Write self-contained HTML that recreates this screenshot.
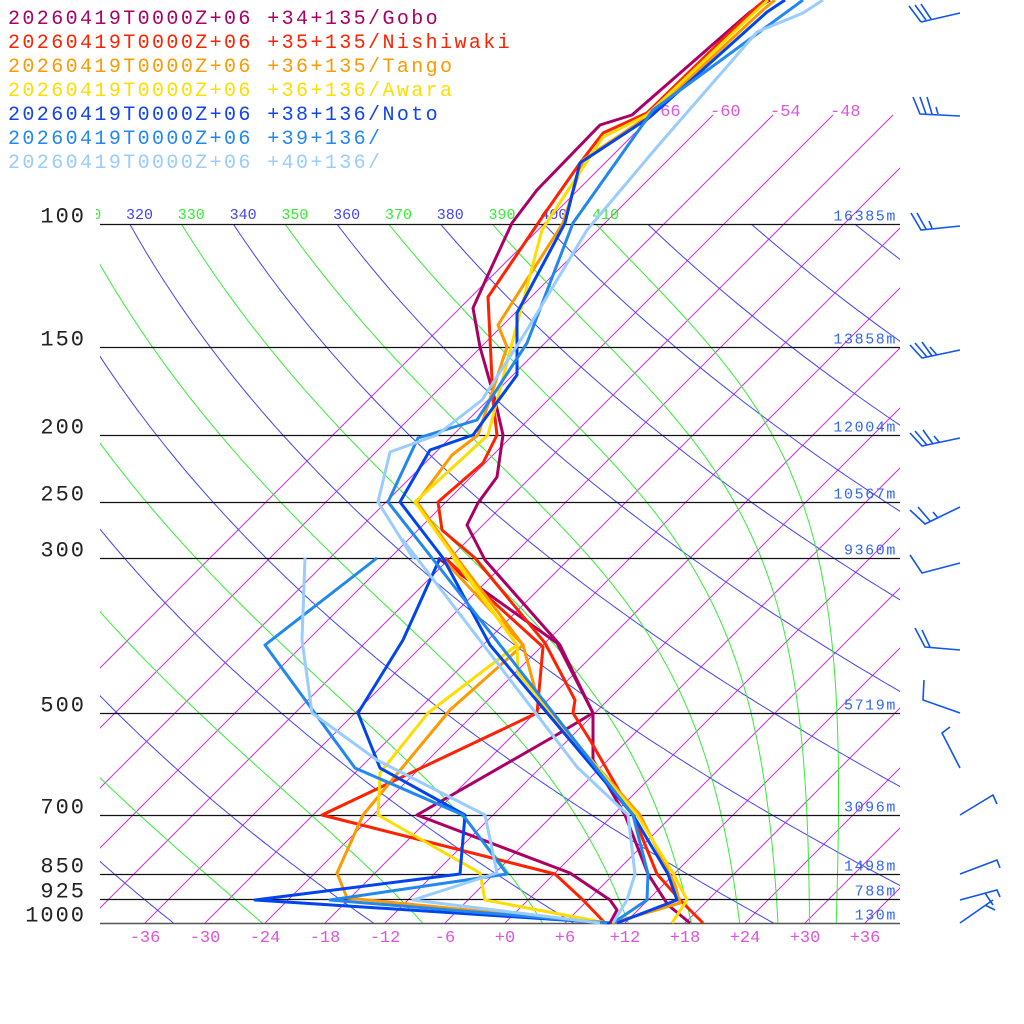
<!DOCTYPE html>
<html><head><meta charset="utf-8"><style>
html,body{margin:0;padding:0;background:#fff;}
svg{display:block;}
text{font-family:"Liberation Mono","DejaVu Sans Mono",monospace;}
</style></head><body>
<svg id="s" width="1024" height="1024" viewBox="0 0 1024 1024" xmlns="http://www.w3.org/2000/svg">
<defs><clipPath id="c1"><rect x="100" y="224" width="800" height="699"/></clipPath>
<clipPath id="c2"><rect x="100" y="0" width="800" height="923"/></clipPath>
<clipPath id="c3"><rect x="96" y="190" width="900" height="40"/></clipPath></defs>
<g id="bg"></g>
<g id="data" fill="none" stroke-width="3" stroke-linejoin="round">
<polyline stroke="#aa0066" points="690,923 668,905 648,874 625,815 593,760 593,713 560,645 485,560 467,525 478,503 497,477 503,435 495,400 480,347 473,308 487,277 512,223 537,190 600,125 632,115 750,12 770,0"/>
<polyline stroke="#aa0066" points="438,558 557,643 593,713 553,737 417,815 570,873 610,900 617,910 610,923"/>
<polyline stroke="#ff2200" points="703,923 680,900 657,874 633,815 590,740 573,713 575,700 545,643 475,558 442,530 438,502 483,463 497,435 493,400 488,297 545,213 580,163 603,133 647,113 753,10 765,0"/>
<polyline stroke="#ff2200" points="445,558 543,647 537,713 322,815 555,874 583,900 605,923"/>
<polyline stroke="#ff9900" points="612,923 680,903 675,885 640,815 538,700 523,645 457,558 417,502 452,455 478,435 507,347 498,325 563,223 583,160 650,115 763,10 775,0"/>
<polyline stroke="#ff9900" points="442,558 523,645 450,710 363,815 337,873 347,898 603,923"/>
<polyline stroke="#ffdd00" points="672,923 687,900 673,873 637,815 518,673 517,645 455,558 415,502 488,435 520,313 542,230 603,137 647,115 757,10 768,0"/>
<polyline stroke="#ffdd00" points="453,558 517,645 428,713 380,773 378,815 480,873 485,900 607,923"/>
<polyline stroke="#0044ee" points="617,923 677,900 668,874 633,815 490,645 443,558 400,502 430,450 473,435 517,375 517,313 565,223 580,163 650,117 767,12 785,0"/>
<polyline stroke="#0044ee" points="440,558 403,640 358,713 380,768 465,815 460,874 255,900 610,923"/>
<polyline stroke="#2288ee" points="613,923 647,900 648,874 633,815 432,558 388,502 418,438 477,420 527,343 573,223 653,110 803,0"/>
<polyline stroke="#2288ee" points="377,558 265,645 355,768 463,815 507,874 330,900 607,923"/>
<polyline stroke="#99ccff" points="613,923 627,900 635,874 628,815 577,767 403,540 413,558 378,502 390,452 437,435 482,400 527,330 587,230 657,147 757,32 803,13 823,0"/>
<polyline stroke="#99ccff" points="305,558 302,640 312,713 377,760 485,815 497,873 413,900 600,923"/>
</g>
<g id="barbs" stroke="#1155ee" stroke-width="1.6" fill="none">
<path d="M960,13L921,22M921,22L909,6M926,20L915,5M931,19L921,4"/>
<path d="M960,116L920,114L913,97M926,114L920,97M932,114L927,97M938,114L936,107"/>
<path d="M960,226L921,230L911,213M926,229L917,213M932,228L929,221"/>
<path d="M960,350L922,358L910,345M927,357L915,343M932,356L922,342M937,355L930,347"/>
<path d="M960,438L922,446L910,433M927,445L915,431M933,444L923,430M939,442L934,436"/>
<path d="M960,507L925,524L910,510M930,521L918,507M938,518L933,512"/>
<path d="M960,563L922,573L910,555"/>
<path d="M960,650L925,647L915,628M930,647L922,630"/>
<path d="M960,713L923,700L924,680"/>
<path d="M960,768L942,733L950,727"/>
<path d="M960,815L993,795L997,804"/>
<path d="M960,874L997,860L1000,868"/>
<path d="M960,900L997,890L1000,897M985,893L993,905"/>
<path d="M960,923L993,900M985,905L995,910"/>
</g>
<g id="txt" font-size="20" letter-spacing="2.4">
<text x="8" y="24" fill="#aa0066">20260419T0000Z+06 +34+135/Gobo</text>
<text x="8" y="48" fill="#ff2200">20260419T0000Z+06 +35+135/Nishiwaki</text>
<text x="8" y="72" fill="#ff9900">20260419T0000Z+06 +36+135/Tango</text>
<text x="8" y="96" fill="#ffdd00">20260419T0000Z+06 +36+136/Awara</text>
<text x="8" y="120" fill="#1144ee">20260419T0000Z+06 +38+136/Noto</text>
<text x="8" y="144" fill="#2288ee">20260419T0000Z+06 +39+136/</text>
<text x="8" y="168" fill="#99ccff">20260419T0000Z+06 +40+136/</text>
</g>
</svg>
<script>
(function(){
var NS="http://www.w3.org/2000/svg";
var bg=document.getElementById('bg');
function el(t,a,p){var e=document.createElementNS(NS,t);for(var k in a)e.setAttribute(k,a[k]);(p||bg).appendChild(e);return e;}
function yP(p){return 923-303.5*Math.log(1000/p);}
function xT(T,y){return 505+10*T+(923-y);}
var gi=el('g',{'clip-path':'url(#c2)',stroke:'#cc33dd','stroke-width':'1',fill:'none'});
for(var T=-66;T<=60;T+=6){
  el('line',{x1:xT(T,923),y1:923,x2:xT(T,115),y2:115},gi);
}
var gt=el('g',{'clip-path':'url(#c1)',fill:'none','stroke-width':'1'});
var gl=el('g',{'clip-path':'url(#c3)','font-size':'15'});
for(var th=200;th<=520;th+=20){
  var pts=[];
  for(var p=1000;p>=98;p-=5){var y=yP(p);var T=th*Math.pow(p/1000,0.2857)-273.15;pts.push(xT(T,y).toFixed(1)+','+y.toFixed(1));}
  el('polyline',{points:pts.join(' '),stroke:'#4444ee'},gt);
  if(th>=320&&th<=400){var T=th*Math.pow(0.1,0.2857)-273.15;var t=el('text',{x:xT(T,224)-4,y:219,fill:'#4444ee'},gl);t.textContent=th;}
}
function es(Tc){return 6.112*Math.exp(17.67*Tc/(Tc+243.5));}
for(var th=190;th<=410;th+=20){
  var TK=th*Math.pow(0.1,0.2857);var pts=[];
  var p=100;var Lv=2.5e6,Rd=287,cp=1004,eps=0.622;
  while(p<=1000.01){
    var y=yP(p);pts.push(xT(TK-273.15,y).toFixed(1)+','+y.toFixed(1));
    var dp=2;
    for(var k=0;k<4;k++){
      var e=es(TK-273.15);var rs=eps*e/Math.max(p-e,1);
      var dTdp=(1/p)*(Rd*TK+Lv*rs)/(cp+(Lv*Lv*rs*eps)/(Rd*TK*TK));
      TK+=dTdp*dp/4;p+=dp/4;
    }
  }
  el('polyline',{points:pts.join(' '),stroke:'#33ee33'},gt);
  if(th>=310){var T=th*Math.pow(0.1,0.2857)-273.15;var t=el('text',{x:xT(T,224)-4,y:219,fill:'#33ee33'},gl);t.textContent=th;}
}
var P=[[100,'100','16385m'],[150,'150','13858m'],[200,'200','12004m'],[250,'250','10567m'],[300,'300','9360m'],[500,'500','5719m'],[700,'700','3096m'],[850,'850','1498m'],[925,'925','788m'],[1000,'1000','130m']];
P.forEach(function(a){var y=Math.round(yP(a[0]))+0.5;
  el('line',{x1:100,y1:y,x2:900,y2:y,stroke:a[0]==1000?'#555':'#111','stroke-width':a[0]==1000?'1.6':'1.2'});
  var t=el('text',{x:86,y:y-2,'text-anchor':'end','font-size':'22','letter-spacing':'2',fill:'#222'});t.textContent=a[1];
  var h=el('text',{x:897,y:y-4,'text-anchor':'end','font-size':'15','letter-spacing':'1.6',fill:'#3366ee'});h.textContent=a[2];
});
for(var T=-36;T<=36;T+=6){var s=(T>=0?'+':'')+T;
  var t=el('text',{x:505+10*T,y:942,'text-anchor':'middle','font-size':'17',fill:'#dd55dd'});t.textContent=s;}
[-66,-60,-54,-48].forEach(function(T){var t=el('text',{x:xT(T,115)-3,y:116,'font-size':'17',fill:'#dd55dd'});t.textContent=T;});
var d=document.getElementById('data');d.parentNode.appendChild(d);
var b=document.getElementById('barbs');b.parentNode.appendChild(b);
var x=document.getElementById('txt');x.parentNode.appendChild(x);
})();
</script>
</body></html>
